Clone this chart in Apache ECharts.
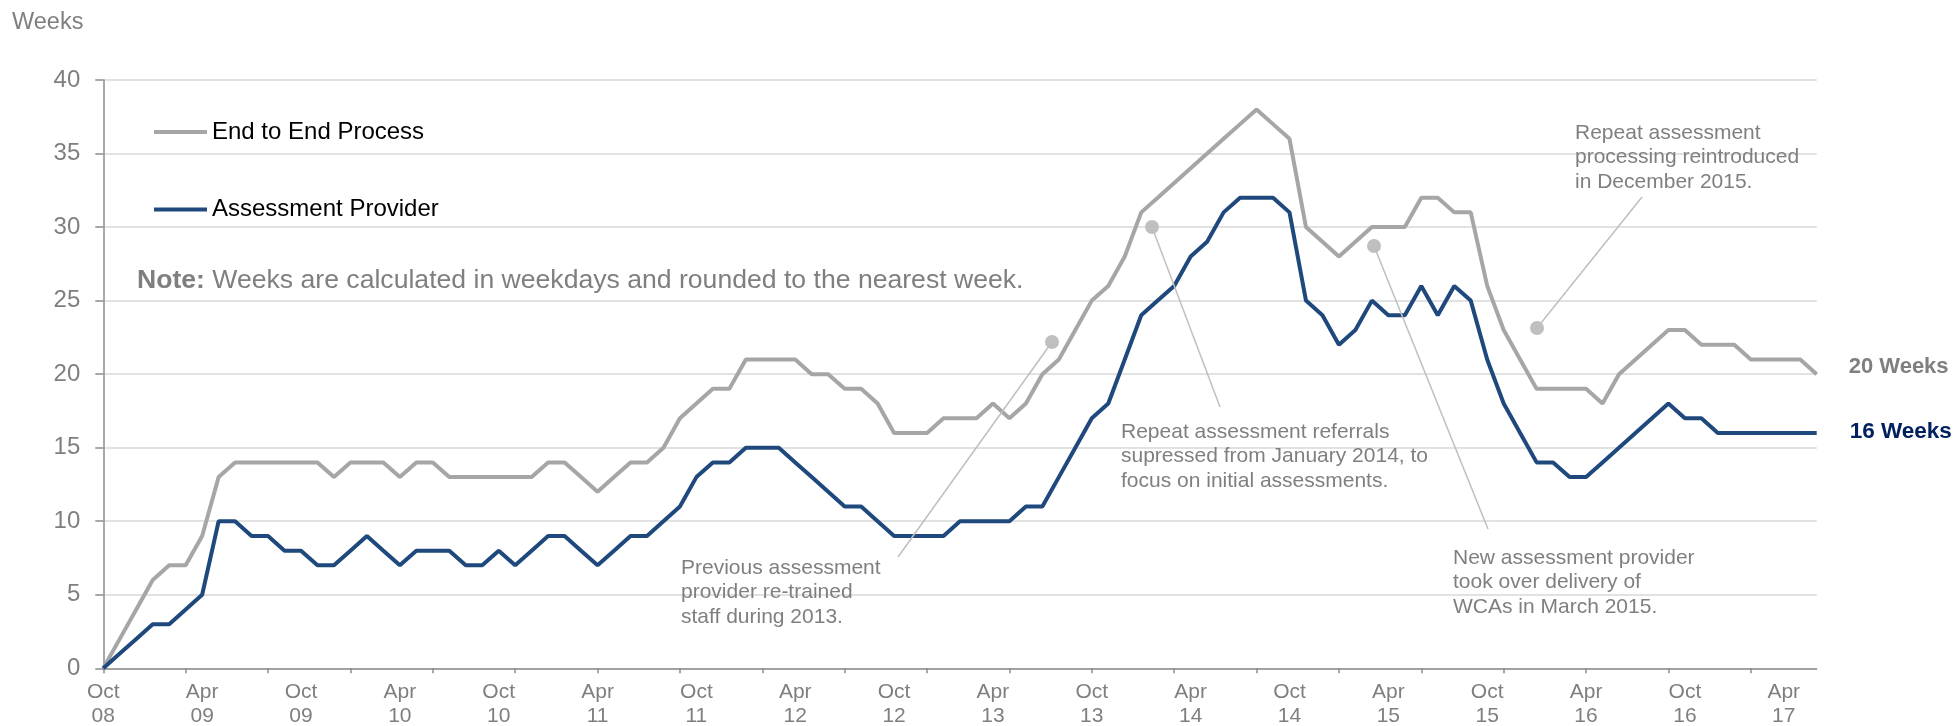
<!DOCTYPE html>
<html>
<head>
<meta charset="utf-8">
<title>WCA clearance times</title>
<script src="https://cdn.jsdelivr.net/npm/echarts@6/dist/echarts.min.js"></script>
<style>
  html, body { margin: 0; padding: 0; background: #fff; }
  #chart { width: 1955px; height: 726px; }
</style>
</head>
<body>
<div id="chart"></div>
<script>
// Monthly values, Oct 2008 to Jun 2017 (weeks)
const endToEnd = [
  0, 2, 4, 6, 7, 7, 9, 13, 14, 14, 14, 14, 14, 14, 13, 14, 14, 14, 13, 14,
  14, 13, 13, 13, 13, 13, 13, 14, 14, 13, 12, 13, 14, 14, 15, 17, 18, 19, 19, 21,
  21, 21, 21, 20, 20, 19, 19, 18, 16, 16, 16, 17, 17, 17, 18, 17, 18, 20, 21, 23,
  25, 26, 28, 31, 32, 33, 34, 35, 36, 37, 38, 37, 36, 30, 29, 28, 29, 30, 30, 30,
  32, 32, 31, 31, 26, 23, 21, 19, 19, 19, 19, 18, 20, 21, 22, 23, 23, 22, 22, 22,
  21, 21, 21, 21, 20
];
const assessmentProvider = [
  0, 1, 2, 3, 3, 4, 5, 10, 10, 9, 9, 8, 8, 7, 7, 8, 9, 8, 7, 8,
  8, 8, 7, 7, 8, 7, 8, 9, 9, 8, 7, 8, 9, 9, 10, 11, 13, 14, 14, 15,
  15, 15, 14, 13, 12, 11, 11, 10, 9, 9, 9, 9, 10, 10, 10, 10, 11, 11, 13, 15,
  17, 18, 21, 24, 25, 26, 28, 29, 31, 32, 32, 32, 31, 25, 24, 22, 23, 25, 24, 24,
  26, 24, 26, 25, 21, 18, 16, 14, 14, 13, 13, 14, 15, 16, 17, 18, 17, 17, 16, 16,
  16, 16, 16, 16, 16
];
const seriesNames = ['End to End Process', 'Assessment Provider'];

// Month categories, first one is Oct 08
const monthNames = ['Jan', 'Feb', 'Mar', 'Apr', 'May', 'Jun', 'Jul', 'Aug', 'Sep', 'Oct', 'Nov', 'Dec'];
const months = endToEnd.map((v, i) => {
  const m = 9 + i;
  return monthNames[m % 12] + ' ' + String(8 + Math.floor(m / 12)).padStart(2, '0');
});

const FONT = "'Liberation Sans', Arial, sans-serif";
const GREY_LINE = '#a6a6a6';
const BLUE_LINE = '#1f497d';
const TEXT_GREY = '#7f7f7f';
const NOTE_GREY = '#bfbfbf';

// Callouts: text block, dot and end of the leader line (pixels)
const callouts = [
  { text: 'Previous assessment\nprovider re-trained\nstaff during 2013.', x: 681, y: 556, dot: [1052, 342], end: [898, 557] },
  { text: 'Repeat assessment referrals\nsupressed from January 2014, to\nfocus on initial assessments.', x: 1121, y: 420, dot: [1152, 227], end: [1220, 407] },
  { text: 'New assessment provider\ntook over delivery of\nWCAs in March 2015.', x: 1453, y: 546, dot: [1374, 246], end: [1488, 529] },
  { text: 'Repeat assessment\nprocessing reintroduced\nin December 2015.', x: 1575, y: 121, dot: [1537, 328], end: [1642, 197] }
];

const graphics = [
  {
    type: 'text', x: 12, y: 23,
    style: { text: 'Weeks', fontSize: 23.5, fontFamily: FONT, fill: TEXT_GREY, verticalAlign: 'middle' }
  },
  {
    type: 'text', x: 137, y: 281,
    style: {
      text: '{b|Note:} Weeks are calculated in weekdays and rounded to the nearest week.',
      fontSize: 26.6, fontFamily: FONT, fill: TEXT_GREY, verticalAlign: 'middle',
      rich: { b: { fontSize: 26.6, fontFamily: FONT, fontWeight: 'bold', fill: TEXT_GREY } }
    }
  }
];
callouts.forEach(c => {
  graphics.push({
    type: 'line', z: 100,
    shape: { x1: c.dot[0], y1: c.dot[1], x2: c.end[0], y2: c.end[1] },
    style: { stroke: NOTE_GREY, lineWidth: 1.5 }
  });
  graphics.push({
    type: 'circle', z: 100,
    shape: { cx: c.dot[0], cy: c.dot[1], r: 7 },
    style: { fill: NOTE_GREY }
  });
  graphics.push({
    type: 'text', z: 100, x: c.x, y: c.y,
    style: { text: c.text, fontSize: 21, fontFamily: FONT, fill: TEXT_GREY, lineHeight: 24.3, verticalAlign: 'top' }
  });
});

const chart = echarts.init(document.getElementById('chart'));

chart.setOption({
  animation: false,
  backgroundColor: '#fff',
  textStyle: { fontFamily: FONT },
  grid: { left: 103.3, top: 80, right: 138.3, bottom: 57.7, outerBoundsMode: 'none' },
  legend: {
    orient: 'vertical',
    left: 154,
    top: 120,
    padding: 0,
    icon: 'rect',
    itemWidth: 53,
    itemHeight: 4,
    itemGap: 53.5,
    data: seriesNames,
    textStyle: { fontSize: 24, color: '#000', fontFamily: FONT }
  },
  xAxis: {
    type: 'category',
    boundaryGap: false,
    data: months,
    axisLine: { lineStyle: { color: '#8c8c8c', width: 1.5 } },
    axisTick: { interval: 4, length: 5, lineStyle: { color: '#8c8c8c', width: 1.5 } },
    axisLabel: {
      interval: 5,
      margin: 12,
      fontSize: 21,
      lineHeight: 24,
      color: TEXT_GREY,
      fontFamily: FONT,
      formatter: v => v.replace(' ', '\n')
    },
    splitLine: { show: false }
  },
  yAxis: {
    type: 'value',
    min: 0,
    max: 40,
    interval: 5,
    axisLine: { show: true, lineStyle: { color: '#8c8c8c', width: 1.5 } },
    axisTick: { show: true, length: 8, lineStyle: { color: '#8c8c8c', width: 1.5 } },
    axisLabel: { margin: 23, fontSize: 24, color: TEXT_GREY, fontFamily: FONT },
    splitLine: { lineStyle: { color: '#d9d9d9', width: 1.5 } }
  },
  series: [
    {
      name: seriesNames[0],
      type: 'line',
      data: endToEnd,
      symbol: 'none',
      color: GREY_LINE,
      lineStyle: { color: GREY_LINE, width: 4 },
      endLabel: {
        show: true,
        distance: 32,
        offset: [0, -7.5],
        formatter: p => p.value + ' Weeks',
        fontSize: 22,
        fontWeight: 'bold',
        color: TEXT_GREY,
        fontFamily: FONT
      }
    },
    {
      name: seriesNames[1],
      type: 'line',
      data: assessmentProvider,
      symbol: 'none',
      color: BLUE_LINE,
      lineStyle: { color: BLUE_LINE, width: 4 },
      endLabel: {
        show: true,
        distance: 33,
        offset: [0, -1],
        formatter: p => p.value + ' Weeks',
        fontSize: 22.5,
        fontWeight: 'bold',
        color: '#002060',
        fontFamily: FONT
      }
    }
  ],
  graphic: graphics
});
</script>
</body>
</html>
